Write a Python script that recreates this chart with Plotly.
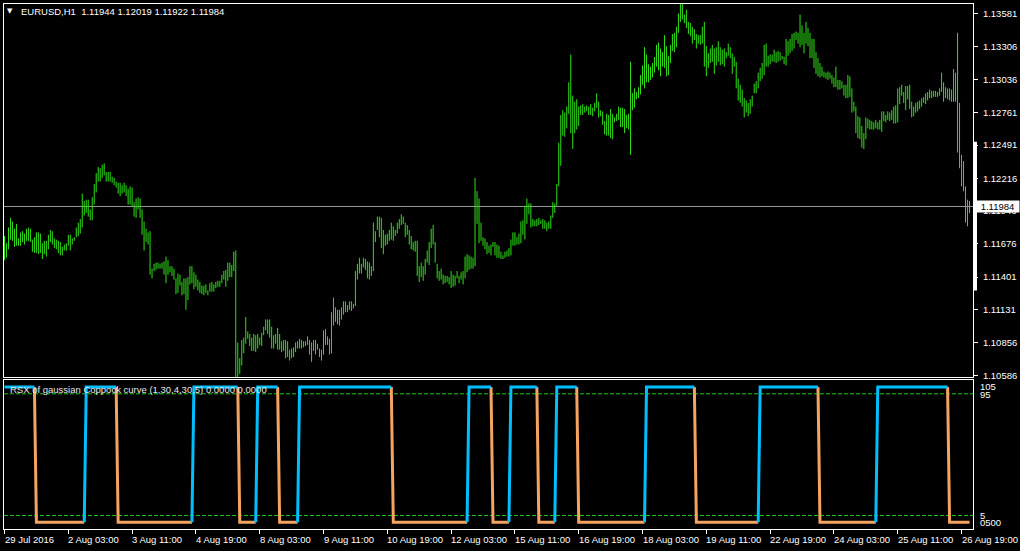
import plotly.graph_objects as go

# ---------------- data ----------------
bar_high = [
    1.1174, 1.1168, 1.1181, 1.1189, 1.1186, 1.1180, 1.1184, 1.1172, 1.1177, 1.1178,
    1.1176, 1.1180, 1.1181, 1.1180, 1.1171, 1.1173, 1.1177, 1.1177, 1.1176, 1.1168,
    1.1170, 1.1170, 1.1175, 1.1179, 1.1178, 1.1172, 1.1171, 1.1170, 1.1169, 1.1165,
    1.1167, 1.1168, 1.1175, 1.1175, 1.1172, 1.1173, 1.1181, 1.1185, 1.1188, 1.1209,
    1.1203, 1.1204, 1.1204, 1.1196, 1.1206, 1.1217, 1.1226, 1.1231, 1.1230, 1.1233,
    1.1234, 1.1227, 1.1227, 1.1227, 1.1223, 1.1222, 1.1219, 1.1218, 1.1218, 1.1216,
    1.1218, 1.1216, 1.1213, 1.1215, 1.1214, 1.1202, 1.1205, 1.1206, 1.1205, 1.1196,
    1.1186, 1.1180, 1.1177, 1.1178, 1.1147, 1.1151, 1.1152, 1.1152, 1.1151, 1.1152,
    1.1153, 1.1157, 1.1154, 1.1149, 1.1149, 1.1147, 1.1139, 1.1143, 1.1142, 1.1136,
    1.1139, 1.1139, 1.1140, 1.1149, 1.1149, 1.1144, 1.1142, 1.1138, 1.1136, 1.1133,
    1.1133, 1.1134, 1.1129, 1.1135, 1.1136, 1.1134, 1.1136, 1.1137, 1.1137, 1.1142,
    1.1145, 1.1146, 1.1152, 1.1152, 1.1150, 1.1161, 1.1162, 1.1086, 1.1073, 1.1088,
    1.1090, 1.1107, 1.1095, 1.1093, 1.1090, 1.1093, 1.1092, 1.1093, 1.1090, 1.1094,
    1.1099, 1.1105, 1.1105, 1.1105, 1.1099, 1.1092, 1.1093, 1.1098, 1.1093, 1.1087,
    1.1088, 1.1088, 1.1087, 1.1080, 1.1081, 1.1082, 1.1086, 1.1087, 1.1089, 1.1088,
    1.1087, 1.1087, 1.1091, 1.1088, 1.1086, 1.1088, 1.1088, 1.1085, 1.1081, 1.1080,
    1.1096, 1.1097, 1.1091, 1.1089, 1.1111, 1.1123, 1.1115, 1.1113, 1.1113, 1.1115,
    1.1120, 1.1120, 1.1117, 1.1120, 1.1120, 1.1118, 1.1145, 1.1151, 1.1156, 1.1151,
    1.1156, 1.1155, 1.1153, 1.1152, 1.1149, 1.1185, 1.1178, 1.1190, 1.1190, 1.1189,
    1.1179, 1.1175, 1.1176, 1.1179, 1.1185, 1.1182, 1.1179, 1.1185, 1.1188, 1.1192,
    1.1190, 1.1185, 1.1183, 1.1179, 1.1174, 1.1169, 1.1170, 1.1170, 1.1149, 1.1152,
    1.1149, 1.1155, 1.1162, 1.1169, 1.1180, 1.1183, 1.1169, 1.1151, 1.1145, 1.1147,
    1.1142, 1.1141, 1.1141, 1.1140, 1.1145, 1.1142, 1.1141, 1.1145, 1.1141, 1.1144,
    1.1145, 1.1157, 1.1159, 1.1158, 1.1157, 1.1156, 1.1222, 1.1211, 1.1205, 1.1185,
    1.1173, 1.1172, 1.1169, 1.1166, 1.1167, 1.1169, 1.1169, 1.1167, 1.1166, 1.1161,
    1.1158, 1.1161, 1.1162, 1.1164, 1.1171, 1.1177, 1.1177, 1.1173, 1.1176, 1.1186,
    1.1187, 1.1199, 1.1205, 1.1201, 1.1201, 1.1188, 1.1187, 1.1188, 1.1189, 1.1187,
    1.1188, 1.1187, 1.1185, 1.1186, 1.1191, 1.1202, 1.1201, 1.1217, 1.1251, 1.1274,
    1.1278, 1.1276, 1.1281, 1.1301, 1.1324, 1.1290, 1.1285, 1.1287, 1.1281, 1.1282,
    1.1283, 1.1281, 1.1282, 1.1281, 1.1283, 1.1280, 1.1284, 1.1292, 1.1285, 1.1278,
    1.1277, 1.1269, 1.1275, 1.1274, 1.1279, 1.1275, 1.1272, 1.1275, 1.1281, 1.1280,
    1.1280, 1.1279, 1.1274, 1.1275, 1.1318, 1.1292, 1.1296, 1.1293, 1.1297, 1.1307,
    1.1315, 1.1330, 1.1324, 1.1316, 1.1314, 1.1317, 1.1322, 1.1332, 1.1334, 1.1329,
    1.1326, 1.1340, 1.1331, 1.1323, 1.1332, 1.1341, 1.1342, 1.1347, 1.1358, 1.1366,
    1.1366, 1.1357, 1.1361, 1.1351, 1.1350, 1.1347, 1.1345, 1.1341, 1.1340, 1.1340,
    1.1347, 1.1351, 1.1331, 1.1325, 1.1329, 1.1332, 1.1329, 1.1330, 1.1335, 1.1330,
    1.1328, 1.1329, 1.1326, 1.1333, 1.1330, 1.1325, 1.1322, 1.1318, 1.1304, 1.1299,
    1.1295, 1.1288, 1.1286, 1.1284, 1.1287, 1.1290, 1.1300, 1.1302, 1.1309, 1.1313,
    1.1317, 1.1332, 1.1333, 1.1323, 1.1324, 1.1324, 1.1328, 1.1326, 1.1327, 1.1326,
    1.1323, 1.1322, 1.1337, 1.1335, 1.1337, 1.1341, 1.1342, 1.1343, 1.1342, 1.1357,
    1.1348, 1.1342, 1.1351, 1.1346, 1.1342, 1.1337, 1.1337, 1.1326, 1.1321, 1.1317,
    1.1314, 1.1310, 1.1309, 1.1310, 1.1309, 1.1307, 1.1305, 1.1314, 1.1303, 1.1303,
    1.1302, 1.1299, 1.1299, 1.1307, 1.1306, 1.1296, 1.1285, 1.1281, 1.1273, 1.1272,
    1.1265, 1.1259, 1.1272, 1.1271, 1.1270, 1.1269, 1.1268, 1.1270, 1.1268, 1.1270,
    1.1277, 1.1277, 1.1274, 1.1277, 1.1276, 1.1278, 1.1281, 1.1282, 1.1296, 1.1297,
    1.1299, 1.1293, 1.1298, 1.1298, 1.1299, 1.1285, 1.1281, 1.1284, 1.1285, 1.1286,
    1.1288, 1.1289, 1.1292, 1.1293, 1.1295, 1.1294, 1.1294, 1.1294, 1.1293, 1.1296,
    1.1309, 1.1301, 1.1297, 1.1296, 1.1296, 1.1295, 1.1312, 1.1309, 1.1342, 1.1284,
    1.1241, 1.1236, 1.1215, 1.1204, 1.1203,
]

bar_low = [
    1.1154, 1.1156, 1.1163, 1.1171, 1.1170, 1.1165, 1.1166, 1.1166, 1.1166, 1.1169,
    1.1167, 1.1170, 1.1170, 1.1169, 1.1161, 1.1160, 1.1160, 1.1159, 1.1160, 1.1155,
    1.1159, 1.1157, 1.1163, 1.1169, 1.1167, 1.1164, 1.1163, 1.1160, 1.1158, 1.1158,
    1.1162, 1.1162, 1.1166, 1.1162, 1.1167, 1.1170, 1.1173, 1.1174, 1.1176, 1.1181,
    1.1191, 1.1193, 1.1190, 1.1187, 1.1187, 1.1200, 1.1210, 1.1219, 1.1219, 1.1222,
    1.1224, 1.1219, 1.1219, 1.1219, 1.1218, 1.1216, 1.1214, 1.1209, 1.1207, 1.1209,
    1.1210, 1.1207, 1.1200, 1.1200, 1.1198, 1.1190, 1.1189, 1.1196, 1.1189, 1.1175,
    1.1162, 1.1169, 1.1167, 1.1142, 1.1139, 1.1145, 1.1146, 1.1147, 1.1147, 1.1147,
    1.1142, 1.1135, 1.1142, 1.1144, 1.1141, 1.1138, 1.1126, 1.1127, 1.1133, 1.1125,
    1.1126, 1.1113, 1.1121, 1.1134, 1.1135, 1.1130, 1.1132, 1.1129, 1.1127, 1.1126,
    1.1125, 1.1127, 1.1125, 1.1128, 1.1128, 1.1128, 1.1131, 1.1132, 1.1132, 1.1135,
    1.1138, 1.1132, 1.1137, 1.1140, 1.1140, 1.1145, 1.1057, 1.1057, 1.1060, 1.1067,
    1.1077, 1.1085, 1.1089, 1.1083, 1.1079, 1.1079, 1.1078, 1.1081, 1.1084, 1.1083,
    1.1092, 1.1096, 1.1093, 1.1090, 1.1081, 1.1081, 1.1085, 1.1080, 1.1080, 1.1078,
    1.1079, 1.1073, 1.1074, 1.1071, 1.1073, 1.1074, 1.1078, 1.1081, 1.1081, 1.1081,
    1.1082, 1.1083, 1.1084, 1.1076, 1.1070, 1.1079, 1.1076, 1.1080, 1.1074, 1.1071,
    1.1076, 1.1084, 1.1084, 1.1076, 1.1077, 1.1100, 1.1103, 1.1101, 1.1100, 1.1105,
    1.1109, 1.1111, 1.1111, 1.1113, 1.1112, 1.1114, 1.1116, 1.1138, 1.1143, 1.1143,
    1.1148, 1.1146, 1.1139, 1.1138, 1.1141, 1.1145, 1.1169, 1.1179, 1.1173, 1.1164,
    1.1159, 1.1166, 1.1167, 1.1170, 1.1171, 1.1170, 1.1174, 1.1176, 1.1180, 1.1183,
    1.1184, 1.1173, 1.1175, 1.1167, 1.1163, 1.1162, 1.1161, 1.1141, 1.1136, 1.1140,
    1.1137, 1.1142, 1.1152, 1.1150, 1.1164, 1.1167, 1.1152, 1.1139, 1.1137, 1.1138,
    1.1134, 1.1135, 1.1136, 1.1134, 1.1131, 1.1132, 1.1133, 1.1139, 1.1135, 1.1138,
    1.1134, 1.1139, 1.1144, 1.1146, 1.1147, 1.1147, 1.1149, 1.1184, 1.1168, 1.1170,
    1.1166, 1.1163, 1.1159, 1.1160, 1.1158, 1.1165, 1.1158, 1.1156, 1.1156, 1.1155,
    1.1155, 1.1156, 1.1157, 1.1157, 1.1158, 1.1166, 1.1166, 1.1167, 1.1167, 1.1168,
    1.1175, 1.1171, 1.1184, 1.1192, 1.1181, 1.1182, 1.1182, 1.1182, 1.1183, 1.1184,
    1.1180, 1.1180, 1.1178, 1.1180, 1.1180, 1.1189, 1.1193, 1.1199, 1.1215, 1.1232,
    1.1257, 1.1256, 1.1263, 1.1275, 1.1259, 1.1246, 1.1259, 1.1262, 1.1265, 1.1274,
    1.1274, 1.1276, 1.1277, 1.1274, 1.1274, 1.1273, 1.1277, 1.1280, 1.1272, 1.1273,
    1.1266, 1.1258, 1.1257, 1.1257, 1.1255, 1.1254, 1.1268, 1.1269, 1.1270, 1.1264,
    1.1264, 1.1259, 1.1263, 1.1262, 1.1241, 1.1278, 1.1280, 1.1287, 1.1288, 1.1291,
    1.1299, 1.1296, 1.1301, 1.1301, 1.1303, 1.1305, 1.1309, 1.1314, 1.1311, 1.1306,
    1.1314, 1.1313, 1.1306, 1.1307, 1.1317, 1.1327, 1.1326, 1.1330, 1.1342, 1.1351,
    1.1353, 1.1350, 1.1346, 1.1341, 1.1339, 1.1333, 1.1336, 1.1329, 1.1333, 1.1332,
    1.1333, 1.1314, 1.1306, 1.1313, 1.1317, 1.1318, 1.1308, 1.1315, 1.1318, 1.1315,
    1.1316, 1.1314, 1.1321, 1.1323, 1.1321, 1.1308, 1.1314, 1.1296, 1.1286, 1.1284,
    1.1281, 1.1272, 1.1276, 1.1273, 1.1275, 1.1281, 1.1292, 1.1292, 1.1296, 1.1302,
    1.1304, 1.1307, 1.1314, 1.1314, 1.1316, 1.1318, 1.1318, 1.1317, 1.1318, 1.1319,
    1.1320, 1.1316, 1.1315, 1.1323, 1.1325, 1.1327, 1.1329, 1.1336, 1.1333, 1.1330,
    1.1332, 1.1325, 1.1333, 1.1331, 1.1321, 1.1321, 1.1313, 1.1308, 1.1306, 1.1305,
    1.1306, 1.1305, 1.1304, 1.1303, 1.1304, 1.1300, 1.1297, 1.1297, 1.1295, 1.1295,
    1.1296, 1.1290, 1.1288, 1.1288, 1.1289, 1.1276, 1.1277, 1.1259, 1.1255, 1.1254,
    1.1247, 1.1246, 1.1254, 1.1263, 1.1262, 1.1262, 1.1262, 1.1263, 1.1262, 1.1262,
    1.1260, 1.1269, 1.1268, 1.1270, 1.1269, 1.1270, 1.1267, 1.1267, 1.1268, 1.1283,
    1.1290, 1.1284, 1.1278, 1.1287, 1.1279, 1.1272, 1.1273, 1.1276, 1.1277, 1.1279,
    1.1281, 1.1284, 1.1283, 1.1286, 1.1288, 1.1288, 1.1289, 1.1289, 1.1289, 1.1290,
    1.1293, 1.1285, 1.1288, 1.1287, 1.1286, 1.1285, 1.1285, 1.1285, 1.1243, 1.1230,
    1.1215, 1.1211, 1.1185, 1.1182, 1.1193,
]

rsx_values = [
    100, 100, 100, 100, 100, 100, 100, 100, 100, 100,
    100, 100, 100, 100, 100, 100,
    0, 0, 0, 0, 0, 0, 0, 0, 0, 0,
    0, 0, 0, 0, 0, 0, 0, 0, 0, 0,
    0, 0, 0, 0, 0,
    100, 100, 100, 100, 100, 100, 100, 100, 100, 100,
    100, 100, 100, 100, 100, 100,
    0, 0, 0, 0, 0, 0, 0, 0, 0, 0,
    0, 0, 0, 0, 0, 0, 0, 0, 0, 0,
    0, 0, 0, 0, 0, 0, 0, 0, 0, 0,
    0, 0, 0, 0, 0, 0, 0, 0,
    100, 100, 100, 100, 100, 100, 100, 100, 100, 100,
    100, 100, 100, 100, 100, 100, 100, 100, 100, 100,
    100, 100, 100,
    0, 0, 0, 0, 0, 0, 0, 0, 0,
    100, 100, 100, 100, 100, 100, 100, 100, 100, 100,
    100,
    0, 0, 0, 0, 0, 0, 0, 0, 0, 0,
    100, 100, 100, 100, 100, 100, 100, 100, 100, 100,
    100, 100, 100, 100, 100, 100, 100, 100, 100, 100,
    100, 100, 100, 100, 100, 100, 100, 100, 100, 100,
    100, 100, 100, 100, 100, 100, 100, 100, 100, 100,
    100, 100, 100, 100, 100, 100, 100,
    0, 0, 0, 0, 0, 0, 0, 0, 0, 0,
    0, 0, 0, 0, 0, 0, 0, 0, 0, 0,
    0, 0, 0, 0, 0, 0, 0, 0, 0, 0,
    0, 0, 0, 0, 0, 0, 0, 0,
    100, 100, 100, 100, 100, 100, 100, 100, 100, 100,
    100, 100,
    0, 0, 0, 0, 0, 0, 0, 0, 0,
    100, 100, 100, 100, 100, 100, 100, 100, 100, 100,
    100, 100, 100, 100,
    0, 0, 0, 0, 0, 0, 0, 0, 0,
    100, 100, 100, 100, 100, 100, 100, 100, 100, 100,
    100,
    0, 0, 0, 0, 0, 0, 0, 0, 0, 0,
    0, 0, 0, 0, 0, 0, 0, 0, 0, 0,
    0, 0, 0, 0, 0, 0, 0, 0, 0, 0,
    0, 0, 0, 0,
    100, 100, 100, 100, 100, 100, 100, 100, 100, 100,
    100, 100, 100, 100, 100, 100, 100, 100, 100, 100,
    100, 100, 100, 100, 100,
    0, 0, 0, 0, 0, 0, 0, 0, 0, 0,
    0, 0, 0, 0, 0, 0, 0, 0, 0, 0,
    0, 0, 0, 0, 0, 0, 0, 0, 0, 0,
    0, 0,
    100, 100, 100, 100, 100, 100, 100, 100, 100, 100,
    100, 100, 100, 100, 100, 100, 100, 100, 100, 100,
    100, 100, 100, 100, 100, 100, 100, 100, 100, 100,
    0, 0, 0, 0, 0, 0, 0, 0, 0, 0,
    0, 0, 0, 0, 0, 0, 0, 0, 0, 0,
    0, 0, 0, 0, 0, 0, 0, 0, 0,
    100, 100, 100, 100, 100, 100, 100, 100, 100, 100,
    100, 100, 100, 100, 100, 100, 100, 100, 100, 100,
    100, 100, 100, 100, 100, 100, 100, 100, 100, 100,
    100, 100, 100, 100, 100, 100,
    0, 0, 0, 0, 0, 0, 0, 0, 0, 0,
    0,
]

time_tick_bars = [0, 32, 64, 96, 128, 160, 192, 224, 256, 288, 320, 352, 384, 416, 448, 480]
time_tick_labels = ["29 Jul 2016", "2 Aug 03:00", "3 Aug 11:00", "4 Aug 19:00", "8 Aug 03:00",
                    "9 Aug 11:00", "10 Aug 19:00", "12 Aug 03:00", "15 Aug 11:00", "16 Aug 19:00",
                    "18 Aug 03:00", "19 Aug 11:00", "22 Aug 19:00", "24 Aug 03:00", "25 Aug 11:00",
                    "26 Aug 19:00"]
price_ticks = [1.13581, 1.13306, 1.13036, 1.12761, 1.12491, 1.12216, 1.11946,
               1.11676, 1.11401, 1.11131, 1.10856, 1.10586]
bid_price = 1.11984
header_text = "EURUSD,H1\u00a0\u00a01.11944 1.12019 1.11922 1.11984"
rsx_title = "RSX of gaussian Coppock curve (1,30,4,30,5) 0.0000 0.0000"
rsx_levels = [95, 5]
rsx_scale_labels = [(100.5, "105"), (94.5, "95"), (5, "5"), (0, "0500")]

# ---------------- styling ----------------
FONT = "Liberation Sans, Arial, sans-serif"
FS = 9.5
BAR_COLOR = "#30e018"
BLUE = "#00BFFF"
ORANGE = "#F4A460"
LEVEL_GREEN = "#1ec81e"

W, H = 1020, 551
ML, MR, MT, MB = 3, 45, 3, 22
PW, PH = W - ML - MR, H - MT - MB

def py(ypx):
    return (H - MB - ypx) / PH

def px(xpx):
    return (xpx - ML) / PW

xr = [-0.25, -0.25 + PW / 2.0]

fig = go.Figure()

# price bars as high-low vertical strokes
bx, by = [], []
for i, (hi, lo) in enumerate(zip(bar_high, bar_low)):
    bx += [i, i, None]
    by += [lo, hi, None]
fig.add_trace(go.Scatter(x=bx, y=by, mode="lines", line=dict(color=BAR_COLOR, width=1),
                         xaxis="x", yaxis="y", hoverinfo="skip", showlegend=False))

# RSX colored line
blue_x, blue_y, or_x, or_y = [], [], [], []
for k in range(len(rsx_values) - 1):
    a, b = rsx_values[k], rsx_values[k + 1]
    up = b > a or (b == a and a >= 50)
    X, Y = (blue_x, blue_y) if up else (or_x, or_y)
    if X and X[-1] == k:
        X.append(k + 1); Y.append(b)
    else:
        if X:
            X.append(None); Y.append(None)
        X += [k, k + 1]; Y += [a, b]

for lvl in rsx_levels:
    fig.add_trace(go.Scatter(x=xr, y=[lvl, lvl], mode="lines",
                             line=dict(color=LEVEL_GREEN, width=1, dash="4px,2px"),
                             xaxis="x2", yaxis="y2", hoverinfo="skip", showlegend=False))
fig.add_trace(go.Scatter(x=or_x, y=or_y, mode="lines", line=dict(color=ORANGE, width=3),
                         xaxis="x2", yaxis="y2", hoverinfo="skip", showlegend=False))
fig.add_trace(go.Scatter(x=blue_x, y=blue_y, mode="lines", line=dict(color=BLUE, width=3),
                         xaxis="x2", yaxis="y2", hoverinfo="skip", showlegend=False))

main_bottom = py(377)
sub_top = py(380)
y_top_px, y_bot_px = 3, 377
slope = (1.13581 - 1.10586) / (375.3 - 12.3)
y_max = 1.13581 + (12.3 - y_top_px) * slope
y_min = 1.10586 - (y_bot_px - 375.3) * slope

axis_common = dict(showgrid=False, zeroline=False, showline=True, mirror=True,
                   linecolor="white", linewidth=1)

fig.update_layout(
    width=W, height=H,
    margin=dict(l=ML, r=MR, t=MT, b=MB),
    paper_bgcolor="black", plot_bgcolor="black",
    font=dict(family=FONT, size=FS, color="white"),
    showlegend=False,
    xaxis=dict(domain=[0, 1], anchor="y", range=xr, showticklabels=False, ticks="", **axis_common),
    yaxis=dict(domain=[main_bottom, 1], anchor="x", range=[y_min, y_max], side="right",
               tickvals=price_ticks, ticktext=[f"{p:.5f}" for p in price_ticks],
               ticks="outside", ticklen=4, tickcolor="white", ticklabelstandoff=3,
               tickfont=dict(family=FONT, size=FS, color="white"), **axis_common),
    xaxis2=dict(domain=[0, 1], anchor="y2", range=xr, showticklabels=False,
                tickvals=time_tick_bars, ticks="outside", ticklen=4, tickcolor="white",
                **axis_common),
    yaxis2=dict(domain=[0, sub_top], anchor="x2", range=[-5, 105], side="right",
                showticklabels=False, ticks="", **axis_common),
)

# bid line
fig.add_shape(type="line", xref="paper", yref="y", x0=0, x1=1, y0=bid_price, y1=bid_price,
              line=dict(color="#9a9a9a", width=1), layer="below")
# white marker on the price scale
fig.add_shape(type="line", xref="paper", yref="y", x0=px(977.5), x1=px(977.5),
              y0=1.12519, y1=1.11290, line=dict(color="white", width=3))

ann = []
# bid tag
ann.append(dict(x=px(977), y=bid_price, xref="paper", yref="y", xanchor="left", yanchor="middle",
                text=f"{bid_price:.5f}", showarrow=False, bgcolor="white", borderpad=0,
                width=43, height=11, align="center",
                font=dict(family=FONT, size=FS, color="black")))
# header
ann.append(dict(x=px(9.5), y=py(10.3), xref="paper", yref="paper", xanchor="center", yanchor="middle",
                text="\u25BC", showarrow=False, font=dict(family="DejaVu Sans", size=7, color="white")))
ann.append(dict(x=px(18), y=py(10.7), xref="paper", yref="paper", xanchor="left", yanchor="middle",
                text=header_text, showarrow=False, font=dict(family=FONT, size=FS, color="white")))
# indicator title
ann.append(dict(x=px(7), y=py(389), xref="paper", yref="paper", xanchor="left", yanchor="middle",
                text=rsx_title, showarrow=False, font=dict(family=FONT, size=FS, color="#e8e8e8")))
# indicator scale labels
for val, lab in rsx_scale_labels:
    ann.append(dict(x=px(980), y=val, xref="paper", yref="y2", xanchor="left", yanchor="middle",
                    text=lab, showarrow=False, font=dict(family=FONT, size=FS, color="white")))
# time labels
for b, lab in zip(time_tick_bars, time_tick_labels):
    ann.append(dict(x=b, y=py(539.5), xref="x2", yref="paper", xanchor="left", yanchor="middle",
                    xshift=-2, text=lab, showarrow=False,
                    font=dict(family=FONT, size=FS, color="white")))
fig.update_layout(annotations=ann)

fig.write_html(
    "out.html",
    config={"displayModeBar": False},
    post_script="document.body.style.margin='0px';document.body.style.overflow='hidden';",
)
